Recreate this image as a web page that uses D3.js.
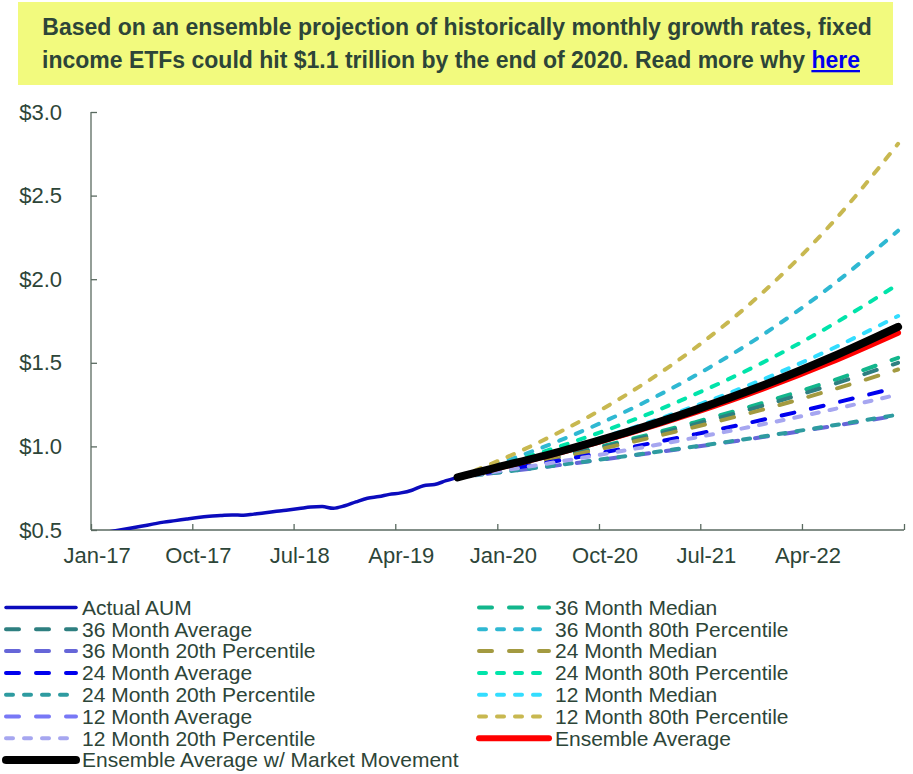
<!DOCTYPE html>
<html>
<head>
<meta charset="utf-8">
<script src="https://cdn.jsdelivr.net/npm/d3@7"></script>
<style>
body { margin: 0; background: #fff; }
svg { font-family: "Liberation Sans", Arial, sans-serif; }
</style>
</head>
<body>
<script>
// ---- data (AUM in $ trillions) ----
var actualStart = "2017-01";
var actualAUM = [0.478, 0.488, 0.498, 0.510, 0.522, 0.535, 0.547, 0.556, 0.566, 0.575,
  0.582, 0.586, 0.590, 0.588, 0.595, 0.603, 0.612, 0.620, 0.628, 0.637,
  0.640, 0.630, 0.645, 0.668, 0.690, 0.700, 0.713, 0.722, 0.738, 0.765,
  0.772, 0.795, 0.815];

var projMonths = ["2019-09", "2019-12", "2020-06", "2020-12", "2021-06", "2021-12", "2022-06", "2022-12"];
var m36Median = [0.815, 0.855, 0.943, 1.038, 1.144, 1.260, 1.389, 1.530];
var m36Average = [0.815, 0.854, 0.938, 1.030, 1.132, 1.243, 1.366, 1.500];
var m36P80 = [0.815, 0.882, 1.034, 1.213, 1.422, 1.667, 1.954, 2.290];
var m36P20 = [0.815, 0.839, 0.888, 0.941, 0.997, 1.056, 1.119, 1.185];
var m24Median = [0.815, 0.852, 0.932, 1.020, 1.116, 1.220, 1.335, 1.460];
var m24Average = [0.815, 0.848, 0.916, 0.991, 1.072, 1.159, 1.253, 1.355];
var m24P80 = [0.815, 0.872, 0.999, 1.144, 1.311, 1.501, 1.720, 1.970];
var m24P20 = [0.815, 0.839, 0.889, 0.943, 0.999, 1.059, 1.123, 1.190];
var m12Median = [0.815, 0.865, 0.976, 1.101, 1.241, 1.400, 1.579, 1.780];
var m12Average = [0.815, 0.862, 0.966, 1.081, 1.211, 1.356, 1.518, 1.700];
var m12P80 = [0.815, 0.896, 1.085, 1.312, 1.587, 1.920, 2.323, 2.810];
var m12P20 = [0.815, 0.845, 0.909, 0.978, 1.052, 1.132, 1.218, 1.310];
var ensembleAvg = [0.815, 0.862, 0.963, 1.076, 1.203, 1.345, 1.503, 1.680];
var ensembleMkt = [0.815, 0.866, 0.968, 1.085, 1.217, 1.364, 1.530, 1.715];

var yTicks = [0.5, 1.0, 1.5, 2.0, 2.5, 3.0];
var xTickMonths = ["2017-01", "2017-10", "2018-07", "2019-04", "2020-01", "2020-10", "2021-07", "2022-04", "2023-01"];

var parseMonth = d3.timeParse("%Y-%m");
var startDate = parseMonth(actualStart);
var actualRows = actualAUM.map(function (v, i) { return { date: d3.timeMonth.offset(startDate, i), value: v }; });
function projRows(vals) {
  return vals.map(function (v, i) { return { date: parseMonth(projMonths[i]), value: v }; });
}

// series in Excel order (later drawn on top)
var LONG = "13,17", SHORT = "7,11";
var series = [
  { name: "Actual AUM", rows: actualRows, color: "#0b0bbd", width: 3.5, dash: null },
  { name: "36 Month Median", rows: projRows(m36Median), color: "#12b68c", width: 4, dash: LONG },
  { name: "36 Month Average", rows: projRows(m36Average), color: "#2e7f80", width: 4, dash: LONG },
  { name: "36 Month 80th Percentile", rows: projRows(m36P80), color: "#2fb8d2", width: 4, dash: SHORT },
  { name: "36 Month 20th Percentile", rows: projRows(m36P20), color: "#6666d8", width: 4, dash: LONG },
  { name: "24 Month Median", rows: projRows(m24Median), color: "#a39a40", width: 4, dash: LONG },
  { name: "24 Month Average", rows: projRows(m24Average), color: "#0000ee", width: 4, dash: LONG },
  { name: "24 Month 80th Percentile", rows: projRows(m24P80), color: "#00e4aa", width: 4, dash: SHORT },
  { name: "24 Month 20th Percentile", rows: projRows(m24P20), color: "#2e9ba0", width: 4, dash: SHORT },
  { name: "12 Month Median", rows: projRows(m12Median), color: "#33ddff", width: 4, dash: SHORT },
  { name: "12 Month Average", rows: projRows(m12Average), color: "#7878f6", width: 4, dash: LONG },
  { name: "12 Month 80th Percentile", rows: projRows(m12P80), color: "#c8b850", width: 4, dash: SHORT },
  { name: "12 Month 20th Percentile", rows: projRows(m12P20), color: "#a6a6f0", width: 4, dash: SHORT },
  { name: "Ensemble Average", rows: projRows(ensembleAvg), color: "#ff0000", width: 6, dash: null },
  { name: "Ensemble Average w/ Market Movement", rows: projRows(ensembleMkt), color: "#000000", width: 8, dash: null }
];

var W = 913, H = 774;
var plot = { left: 91, right: 904, top: 112, bottom: 530 };
var textColor = "#2d4538";

var svg = d3.select("body").append("svg")
  .attr("width", W)
  .attr("height", H);

// title box
svg.append("rect")
  .attr("x", 18).attr("y", 2)
  .attr("width", 875).attr("height", 83)
  .attr("fill", "#f2fa7e");

var title = svg.append("text")
  .attr("text-anchor", "middle")
  .style("font-weight", "bold")
  .style("font-size", "23px")
  .attr("fill", textColor);
title.append("tspan").attr("x", 457).attr("y", 35)
  .text("Based on an ensemble projection of historically monthly growth rates, fixed");
var t2 = title.append("tspan").attr("x", 451).attr("y", 68);
t2.text("income ETFs could hit $1.1 trillion by the end of 2020. Read more why ");
title.append("tspan")
  .attr("fill", "#0000ee")
  .style("text-decoration", "underline")
  .text("here");

// scales
var x = d3.scaleTime()
  .domain([parseMonth(xTickMonths[0]), parseMonth(xTickMonths[xTickMonths.length - 1])])
  .range([plot.left, plot.right]);
var y = d3.scaleLinear()
  .domain([0.5, 3.0])
  .range([plot.bottom, plot.top]);

// points sit in the middle of their month slot
function xMid(d) { return x(d3.timeDay.offset(d, 15)); }
var halfMonth = xMid(startDate) - x(startDate);

// axes
var yAxis = svg.append("g")
  .attr("transform", "translate(" + plot.left + ",0)")
  .call(d3.axisLeft(y).tickValues(yTicks).tickSize(-6).tickPadding(29)
    .tickFormat(function (d) { return "$" + d.toFixed(1); }));

var xTickDates = xTickMonths.map(parseMonth);
var fmt = d3.timeFormat("%b-%y");
var xAxis = svg.append("g")
  .attr("transform", "translate(0," + plot.bottom + ")")
  .call(d3.axisBottom(x).tickValues(xTickDates).tickSize(-6).tickPadding(17)
    .tickFormat(function (d, i) { return i === xTickDates.length - 1 ? "" : fmt(d); }));
xAxis.selectAll(".tick text").attr("dx", halfMonth);

[yAxis, xAxis].forEach(function (g) {
  g.selectAll("path.domain").attr("stroke", "#5a6a60").attr("stroke-width", 1.3);
  g.selectAll(".tick line").attr("stroke", "#5a6a60").attr("stroke-width", 1.3);
  g.selectAll(".tick text")
    .attr("fill", textColor)
    .style("font-size", "22px")
    .style("font-family", "'Liberation Sans', Arial, sans-serif");
});
xAxis.select("path.domain").attr("d", "M" + plot.left + ",0H" + plot.right);
yAxis.select("path.domain").attr("d", "M0," + plot.top + "V" + plot.bottom);

// clip
svg.append("clipPath").attr("id", "plotclip")
  .append("rect")
  .attr("x", plot.left).attr("y", plot.top)
  .attr("width", plot.right - plot.left).attr("height", plot.bottom - plot.top);

var line = d3.line()
  .x(function (d) { return xMid(d.date); })
  .y(function (d) { return y(d.value); })
  .curve(d3.curveMonotoneX);

var lines = svg.append("g").attr("clip-path", "url(#plotclip)");
lines.selectAll("path").data(series).enter()
  .append("path")
  .attr("d", function (s) { return line(s.rows); })
  .attr("fill", "none")
  .attr("stroke", function (s) { return s.color; })
  .attr("stroke-width", function (s) { return s.width; })
  .attr("stroke-linecap", "round")
  .attr("stroke-linejoin", "round")
  .attr("stroke-dasharray", function (s) { return s.dash; });

// legend: two columns, row-wise
var legend = svg.append("g");
var item = legend.selectAll("g").data(series).enter().append("g")
  .attr("transform", function (s, i) {
    var col = i % 2, row = Math.floor(i / 2);
    return "translate(" + (col === 0 ? 6 : 479) + "," + (607.5 + row * 21.8) + ")";
  });
item.append("line")
  .attr("x1", 0).attr("x2", 70)
  .attr("stroke", function (s) { return s.color; })
  .attr("stroke-width", function (s) { return s.width; })
  .attr("stroke-linecap", "round")
  .attr("stroke-dasharray", function (s) { return s.dash; });
item.append("text")
  .attr("x", 76)
  .attr("dy", "0.35em")
  .attr("fill", textColor)
  .style("font-size", "21px")
  .text(function (s) { return s.name; });
</script>
</body>
</html>
